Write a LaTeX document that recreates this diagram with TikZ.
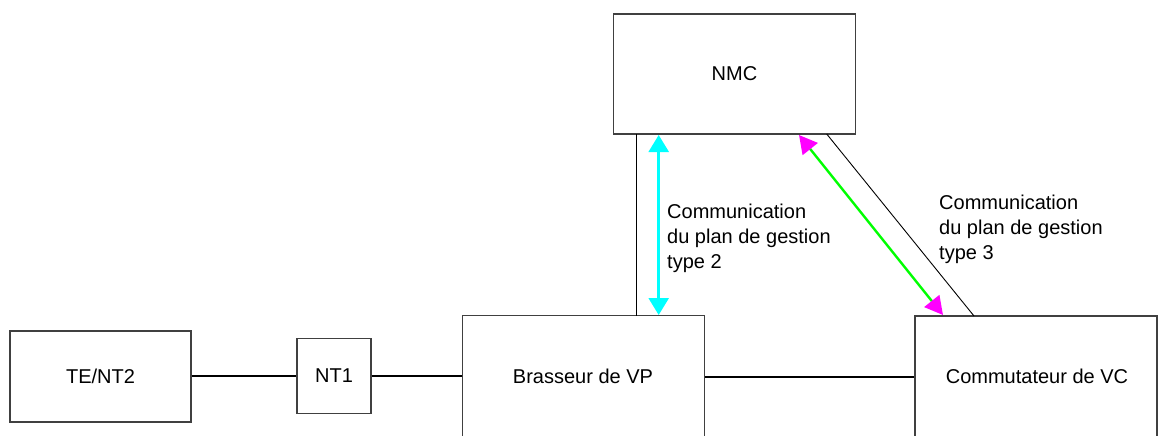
\documentclass[tikz,border=0pt]{standalone}
\usepackage{fontspec}
\setmainfont{Liberation Sans}
\usetikzlibrary{arrows.meta}
\definecolor{pcyan}{RGB}{0,255,255}
\definecolor{pmag}{RGB}{255,0,255}
\definecolor{pgreen}{RGB}{0,255,0}
\begin{document}
\begin{tikzpicture}[x=1pt,y=-1pt,
  box/.style={draw=black!75,line width=1.6pt,fill=white,inner sep=0pt,font=\fontsize{20}{25}\selectfont},
  wire/.style={draw=black,line width=1.2pt},
  thin/.style={draw=black,line width=0.9pt},
  lbl/.style={font=\fontsize{20}{25}\selectfont,align=left,anchor=base west,inner sep=0pt}
]
\useasboundingbox (0,0) rectangle (1165,436);
\node[box,minimum width=181pt,minimum height=91pt] (te) at (100.5,376.5) {TE/NT2};
\node[box,minimum width=74pt,minimum height=75pt] (nt1) at (334,376) {NT1};
\node[box,minimum width=242pt,minimum height=130pt] (vp) at (583.5,380.5) {};
\node[font=\fontsize{20}{25}\selectfont] (vpt) at (583,376) {Brasseur de VP};
\node[box,minimum width=242pt,minimum height=130pt] (vc) at (1036,381) {};
\node[font=\fontsize{20}{25}\selectfont] (vct) at (1037,376) {Commutateur de VC};
\node[box,minimum width=242pt,minimum height=120pt] (nmc) at (734.5,74) {NMC};

\coordinate (a1) at (636.7,134);
\coordinate (a2) at (636.7,316);
\draw[wire] (te.east |- 0,376) -- (nt1.west |- 0,376);
\draw[wire] (nt1.east |- 0,376) -- (vp.west |- 0,376);
\draw[wire] (vp.east |- 0,377) -- (vc.west |- 0,377);
\draw[wire] (a1) -- (a2);
\coordinate (d1) at (826.7,134);
\coordinate (d2) at (974,316);
\draw[thin] (d1) -- (d2);

\coordinate (c1) at (658.7,135);
\coordinate (c2) at (658.7,315);
\draw[pcyan,line width=2.6pt,{Triangle[length=17pt,width=20pt]}-{Triangle[length=17pt,width=20pt]}] (c1) -- (c2);
\coordinate (g1) at (799,135);
\coordinate (g2) at (943,315);
\draw[pgreen,line width=2.4pt,{Triangle[length=18pt,width=19pt,color=pmag]}-{Triangle[length=18pt,width=19pt,color=pmag]}] (g1) -- (g2);

\node[lbl] (t2) at (667,268) {Communication\\du plan de gestion\\type 2};
\node[lbl] (t3) at (939,259) {Communication\\du plan de gestion\\type 3};
\end{tikzpicture}
\end{document}
